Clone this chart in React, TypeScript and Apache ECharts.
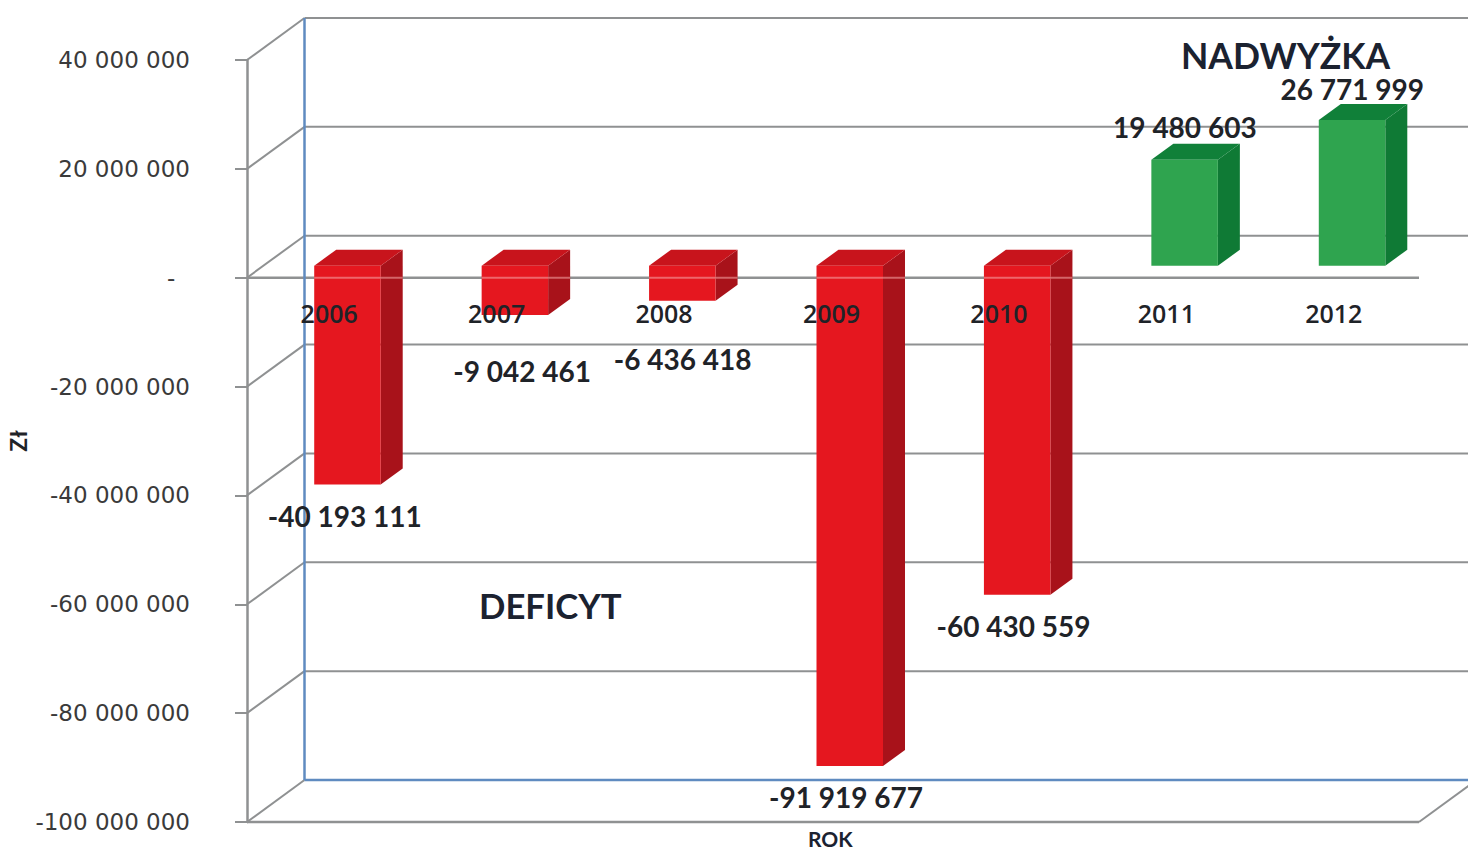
import React, { useEffect, useRef } from "react";
import * as echarts from "echarts";

const categories = ["2006", "2007", "2008", "2009", "2010", "2011", "2012"];
const balance = [-40193111, -9042461, -6436418, -91919677, -60430559, 19480603, 26771999];
const axisTicks = [40000000, 20000000, 0, -20000000, -40000000, -60000000, -80000000, -100000000];

// Label nudges relative to the bar end, kept apart from the values.
const labelShiftX = [14, 24, 17, 13, 13, 17, 17];
const labelShiftY = [32, 56, 58, 31, 31, -33, -31];

const GRID = "#8f9192";
const BLUE = "#5f8bc0";
const DEPTH_X = 57.5;
const DEPTH_Y = -42;
const LABEL_FONT = "700 28px Lato, sans-serif";

const groupDigits = (v: number) => {
  const s = Math.abs(v).toString().replace(/\B(?=(\d{3})+(?!\d))/g, " ");
  return (v < 0 ? "-" : "") + s;
};

const renderWall = (params: any, api: any) => {
  const cs = params.coordSys;
  const left = cs.x;
  const right = cs.x + cs.width;
  const tick = api.value(0);
  const y = api.coord([0, tick])[1];
  const children: any[] = [];
  const line = (x1: number, y1: number, x2: number, y2: number, stroke: string, lineWidth = 2) =>
    children.push({ type: "line", shape: { x1, y1, x2, y2 }, style: { stroke, lineWidth } });
  const isFloor = tick === axisTicks[axisTicks.length - 1];
  line(left, y, left + DEPTH_X, y + DEPTH_Y, GRID);
  line(left + DEPTH_X, y + DEPTH_Y, 1480, y + DEPTH_Y, isFloor ? BLUE : GRID, isFloor ? 2.5 : 2);
  if (tick === 0 || isFloor) line(left, y, right, y, GRID, 2.5);
  if (isFloor) {
    line(right, y, right + DEPTH_X, y + DEPTH_Y, GRID);
    const top = api.coord([0, axisTicks[0]])[1];
    line(left + DEPTH_X, top + DEPTH_Y, left + DEPTH_X, y + DEPTH_Y, BLUE, 2.5);
  }
  return { type: "group", children };
};

const renderBar = (_params: any, api: any) => {
  const i = api.value(0);
  const v = api.value(1);
  const zero = api.coord([i, 0]);
  const end = api.coord([i, v]);
  const x0 = zero[0] - 16.5;
  const x1 = zero[0] + 50;
  const dx = 22;
  const dy = -16;
  const lift = -12;
  const yTop = Math.min(zero[1], end[1]) + lift;
  const yBottom = Math.max(zero[1], end[1]) + lift;
  const neg = v < 0;
  const front = neg ? "#e5171f" : "#2fa44f";
  const side = neg ? "#a8121a" : "#0f7a35";
  const topFace = neg ? "#c8141c" : "#108039";
  const face = (points: number[][], fill: string) => ({
    type: "polygon",
    shape: { points },
    style: { fill },
  });
  const children: any[] = [
    face([[x1, yTop], [x1 + dx, yTop + dy], [x1 + dx, yBottom + dy], [x1, yBottom]], side),
    face([[x0, yTop], [x0 + dx, yTop + dy], [x1 + dx, yTop + dy], [x1, yTop]], topFace),
    face([[x0, yTop], [x1, yTop], [x1, yBottom], [x0, yBottom]], front),
  ];
  if (neg) {
    children.push({
      type: "line",
      shape: { x1: x0, y1: zero[1], x2: x1 + dx, y2: zero[1] },
      style: { stroke: "rgba(245,170,170,0.55)", lineWidth: 2 },
    });
  }
  children.push({
    type: "text",
    x: zero[0] + labelShiftX[i],
    y: (neg ? yBottom : yTop) + labelShiftY[i],
    z2: 50,
    style: {
      text: groupDigits(v),
      fill: "#1f2328",
      font: LABEL_FONT,
      textAlign: "center",
      textVerticalAlign: "middle",
    },
  });
  return { type: "group", children };
};

export default function App() {
  const ref = useRef<HTMLDivElement>(null);
  useEffect(() => {
    const chart = echarts.init(ref.current!, undefined, { renderer: "svg" });
    chart.setOption({
      animation: false,
      backgroundColor: "#ffffff",
      grid: {
        left: 247,
        top: 60,
        width: 1172,
        height: 762,
        containLabel: false,
        outerBoundsMode: "none",
      },
      xAxis: {
        type: "category",
        data: categories,
        position: "bottom",
        offset: -546,
        z: 10,
        axisLine: { show: false, onZero: false },
        axisTick: { show: false },
        axisLabel: {
          color: "#1f2328",
          fontFamily: "Open Sans, sans-serif",
          fontWeight: 600,
          fontSize: 25,
          margin: 24,
          padding: [0, 3, 0, 0],
        },
      },
      yAxis: {
        type: "value",
        min: -100000000,
        max: 40000000,
        interval: 20000000,
        splitLine: { show: false },
        axisLine: { show: true, lineStyle: { color: GRID, width: 2.5 } },
        axisTick: { show: true, length: 12, lineStyle: { color: GRID, width: 2 } },
        axisLabel: {
          margin: 57,
          color: "#3a3a3a",
          fontFamily: "DejaVu Sans, sans-serif",
          fontSize: 23,
          formatter: (v: number) => (v === 0 ? "-  " : groupDigits(v)),
        },
        name: "Zł",
        nameLocation: "middle",
        nameGap: 218,
        nameRotate: 90,
        nameMoveOverlap: false,
        nameTextStyle: {
          color: "#1f2328",
          fontFamily: "Lato, sans-serif",
          fontWeight: 700,
          fontSize: 23,
        },
      },
      graphic: [
        {
          type: "text",
          left: 1181,
          top: 37,
          style: { text: "NADWYŻKA", fill: "#1b2230", font: "700 35.5px Lato, sans-serif" },
        },
        {
          type: "text",
          left: 479,
          top: 588,
          style: { text: "DEFICYT", fill: "#1b2230", font: "700 34.7px Lato, sans-serif" },
        },
        {
          type: "text",
          left: 808,
          top: 828,
          style: { text: "ROK", fill: "#1b2230", font: "700 21px Lato, sans-serif" },
        },
      ],
      series: [
        {
          type: "custom",
          z: 1,
          silent: true,
          renderItem: renderWall,
          data: axisTicks.map((t) => [t]),
          encode: { y: 0 },
        },
        {
          type: "custom",
          z: 2,
          silent: true,
          renderItem: renderBar,
          data: balance.map((v, i) => [i, v]),
          encode: { x: 0, y: 1 },
        },
      ],
    });
    return () => chart.dispose();
  }, []);
  return (
    <div
      ref={ref}
      style={{ position: "fixed", left: 0, top: 0, width: 1468, height: 851, background: "#fff" }}
    />
  );
}
